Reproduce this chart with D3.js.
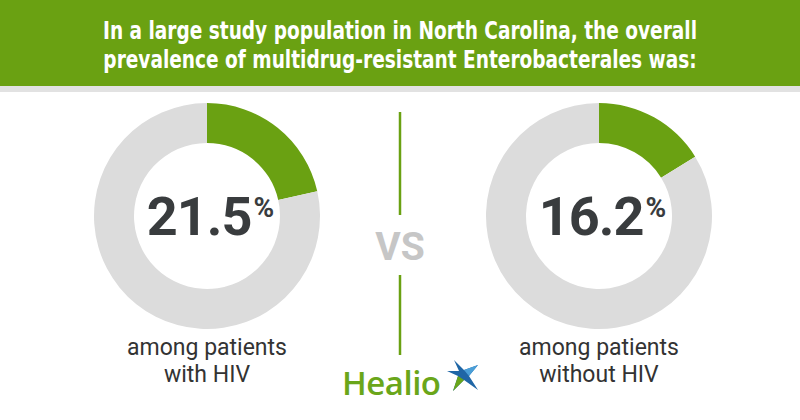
<!DOCTYPE html>
<html><head><meta charset="utf-8">
<script src="https://cdn.jsdelivr.net/npm/d3@7"></script>
<style>html,body{margin:0;padding:0;background:#fff;}svg{display:block;}</style>
</head><body>
<script>
const titleLines = ["In a large study population in North Carolina, the overall",
                    "prevalence of multidrug-resistant Enterobacterales was:"];
const groups = ["with HIV", "without HIV"];
const labelLines = [["among patients", "with HIV"], ["among patients", "without HIV"]];
const prevalence = [21.5, 16.2];
const vsText = "VS";
const brand = "Healio";

const W = 800, H = 420;
const green = "#6aa112", ring = "#dcdcdc", dark = "#393c3e";
const svg = d3.select("body").append("svg").attr("width", W).attr("height", H);

svg.append("rect").attr("x",0).attr("y",0).attr("width",W).attr("height",86).attr("fill", green);
svg.append("rect").attr("x",0).attr("y",86).attr("width",W).attr("height",6).attr("fill", "#e2e2e2");

svg.selectAll("text.title").data(titleLines).join("text")
  .attr("class","title")
  .attr("x", 0).attr("y", 0)
  .attr("text-anchor","middle")
  .attr("fill","#fff")
  .attr("font-family","'Liberation Sans Narrow','DejaVu Sans Condensed',sans-serif")
  .attr("font-weight","bold").attr("font-size",24.5)
  .text(d=>d)
  .each(function(d,i){
    const w = this.getComputedTextLength();
    const k = Math.min(1, 594 / w);
    d3.select(this).attr("transform", `translate(400,${39 + i*29}) scale(${k.toFixed(3)},1)`);
  });

const x = d3.scalePoint().domain(groups).range([207, 599]);
const cy = 216, R = 113, r = 73;
const pie = d3.pie().sort(null).value(d=>d);
const arc = d3.arc().innerRadius(r).outerRadius(R);

groups.forEach((g,i)=>{
  const gg = svg.append("g").attr("transform",`translate(${x(g)},${cy})`);
  gg.selectAll("path").data(pie([prevalence[i], 100 - prevalence[i]])).join("path")
    .attr("d", arc).attr("fill",(d,j)=> j===0 ? green : ring);
  const t = gg.append("text").attr("x", 3.5).attr("y", 19).attr("text-anchor","middle")
    .attr("font-family","Roboto, sans-serif").attr("font-weight","bold").attr("fill",dark);
  t.append("tspan").attr("font-size",54).attr("letter-spacing",-1).text(d3.format(".1f")(prevalence[i]));
  t.append("tspan").attr("font-size",28).attr("dy",-18).attr("dx",2).text("%");
  svg.selectAll(null).data(labelLines[i]).join("text")
    .attr("x", x(g)).attr("y",(d,k)=> 355 + k*27)
    .attr("text-anchor","middle").attr("fill","#333")
    .attr("font-family","Roboto, sans-serif").attr("font-size",23)
    .text(d=>d);
});

svg.append("line").attr("x1",400).attr("x2",400).attr("y1",112).attr("y2",215).attr("stroke",green).attr("stroke-width",2.5);
svg.append("line").attr("x1",400).attr("x2",400).attr("y1",275).attr("y2",355).attr("stroke",green).attr("stroke-width",2.5);
svg.append("text").attr("x",400).attr("y",260).attr("text-anchor","middle")
  .attr("font-family","Roboto, sans-serif").attr("font-weight","bold").attr("font-size",39)
  .attr("fill","#c6c6c6").text(vsText);

svg.append("text").attr("x",342).attr("y",395)
  .attr("font-family","'Open Sans', Roboto, sans-serif").attr("font-weight",600).attr("font-size",33).attr("fill","#6aa61a")
  .attr("letter-spacing",-0.5).text(brand);
// star mark
const sx = 463, sy = 375;
const star = [[-9,-15],[1,-5],[15,-10],[6,1],[15,15],[1,5],[-10,16],[-5,1],[-16,-4],[-4,-4]];
svg.append("path").attr("d", d3.line()(star.map(p=>[sx+p[0], sy+p[1]]))+"Z").attr("fill","#1f66a6");
svg.append("path").attr("d", d3.line()([[sx-5,sy+1],[sx+1,sy+5],[sx-10,sy+16]].map(p=>p))+"Z").attr("fill","#6aa61a");
svg.append("path").attr("d", d3.line()([[sx+1,sy-5],[sx+15,sy-10],[sx+6,sy+1]])+"Z").attr("fill","#4a9fd8");
</script>
</body></html>
